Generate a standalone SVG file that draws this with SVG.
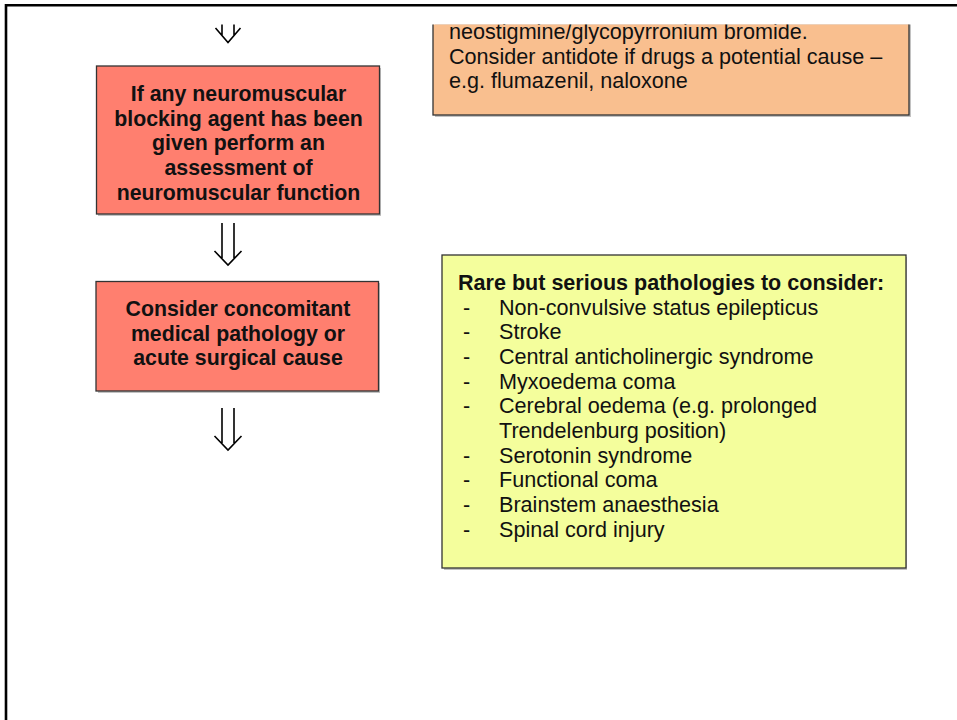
<svg xmlns="http://www.w3.org/2000/svg" width="957" height="720" viewBox="0 0 957 720">
<style>
.b{font-family:"Liberation Sans",Arial,sans-serif;font-weight:bold;font-size:21.3px;fill:#111;text-anchor:middle}
.r{font-family:"Liberation Sans",Arial,sans-serif;font-size:21.6px;fill:#111}
.hb{font-family:"Liberation Sans",Arial,sans-serif;font-weight:bold;font-size:21.55px;fill:#111}
.box{stroke:#333;stroke-width:1.3}
.sh{fill:#999;opacity:0.6}
.arr{fill:none;stroke:#000;stroke-width:1.6}
</style>
<defs>
<clipPath id="page"><rect x="0" y="24.5" width="957" height="696"/></clipPath>
</defs>
<rect x="0" y="0" width="957" height="720" fill="#fff"/>
<g id="frame" fill="none" stroke="#000" stroke-width="2.6">
<path d="M6 720 V5.3 H957"/>
</g>
<g clip-path="url(#page)">
<g id="n-antidote">
<rect class="sh" x="435" y="17" width="476" height="100"/>
<rect class="box" x="433" y="15" width="476" height="100" fill="#F9BF8F"/>
<text class="r" x="449" y="39">neostigmine/glycopyrronium bromide.</text>
<text class="r" x="449" y="63.5">Consider antidote if drugs a potential cause –</text>
<text class="r" x="449" y="88">e.g. flumazenil, naloxone</text>
</g>
<g id="n-nmb">
<rect class="sh" x="98" y="68" width="283" height="148"/>
<rect class="box" x="96.5" y="66" width="283" height="148" fill="#FF7F6F"/>
<text class="b" x="238.5" y="101">If any neuromuscular</text>
<text class="b" x="238.5" y="125.7">blocking agent has been</text>
<text class="b" x="238.5" y="150.4">given perform an</text>
<text class="b" x="238.5" y="175.1">assessment of</text>
<text class="b" x="238.5" y="199.8">neuromuscular function</text>
</g>
<g id="n-pathology">
<rect class="sh" x="98" y="283" width="282" height="110"/>
<rect class="box" x="96" y="281.5" width="282.5" height="109.5" fill="#FF7F6F"/>
<text class="b" x="238" y="316">Consider concomitant</text>
<text class="b" x="238" y="340.7">medical pathology or</text>
<text class="b" x="238" y="365.4">acute surgical cause</text>
</g>
<g id="n-rare">
<rect class="sh" x="444" y="257" width="463" height="313"/>
<rect class="box" x="442" y="255" width="464" height="313" fill="#F4FE9C"/>
<text class="hb" x="458" y="290">Rare but serious pathologies to consider:</text>
<g class="r">
<text x="463" y="314.5">-</text><text x="499" y="314.5">Non-convulsive status epilepticus</text>
<text x="463" y="339.2">-</text><text x="499" y="339.2">Stroke</text>
<text x="463" y="363.9">-</text><text x="499" y="363.9">Central anticholinergic syndrome</text>
<text x="463" y="388.6">-</text><text x="499" y="388.6">Myxoedema coma</text>
<text x="463" y="413.3">-</text><text x="499" y="413.3">Cerebral oedema (e.g. prolonged</text>
<text x="499" y="438">Trendelenburg position)</text>
<text x="463" y="462.7">-</text><text x="499" y="462.7">Serotonin syndrome</text>
<text x="463" y="487.4">-</text><text x="499" y="487.4">Functional coma</text>
<text x="463" y="512.1">-</text><text x="499" y="512.1">Brainstem anaesthesia</text>
<text x="463" y="536.8">-</text><text x="499" y="536.8">Spinal cord injury</text>
</g>
</g>
<g id="connectors" class="arr">
<path d="M222 5 V36 M234 5 V36 M215.5 28 L228 42.5 L240.5 28"/>
<path d="M222 223 V258 M234 223 V258 M214.5 251 L228 265 L241.5 251"/>
<path d="M222 408 V443 M234 408 V443 M214.5 436 L228 450 L241.5 436"/>
</g>
</g>
</svg>
